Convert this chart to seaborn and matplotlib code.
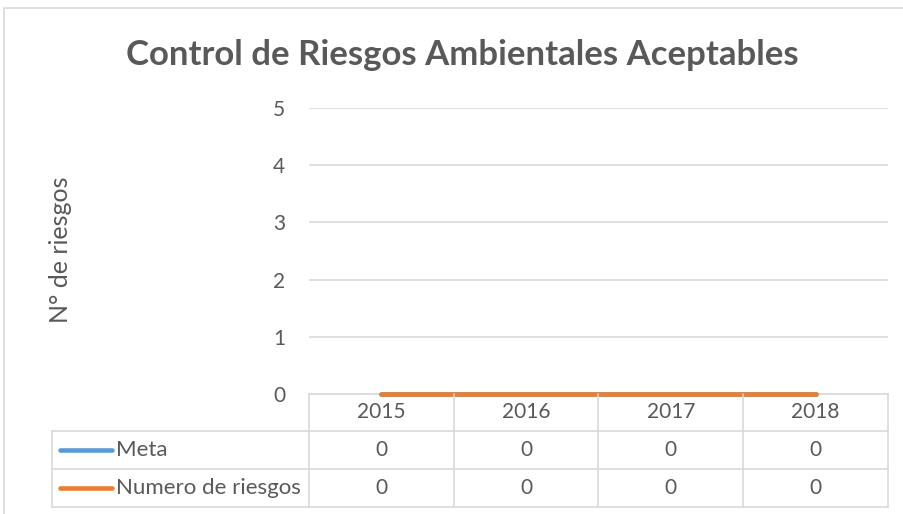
import numpy as np
import pandas as pd
import matplotlib
matplotlib.use("Agg")
import matplotlib.pyplot as plt
from matplotlib.lines import Line2D
from matplotlib.patches import Rectangle
import seaborn as sns

# data
years = ["2015", "2016", "2017", "2018"]
meta = [0, 0, 0, 0]
numero_riesgos = [0, 0, 0, 0]
series_names = ["Meta", "Numero de riesgos"]
series_colors = ["#5b9bd5", "#ed7d31"]
title = "Control de Riesgos Ambientales Aceptables"
y_label = "N° de riesgos"
y_ticks = [0, 1, 2, 3, 4, 5]

sns.set_theme(style="white")
plt.rcParams["font.family"] = ["Lato", "DejaVu Sans"]
txt = "#595959"
grid = "#d9d9d9"

df = pd.DataFrame({
    "year": years * 2,
    "serie": [series_names[0]] * len(years) + [series_names[1]] * len(years),
    "valor": meta + numero_riesgos,
})

W, H = 904, 514
fig = plt.figure(figsize=(W / 100, H / 100), dpi=100)

def fx(x):
    return x / W

def fy(y):
    return 1 - y / H

# outer chart frame
fig.patches.append(Rectangle((fx(4), fy(520)), fx(910) - fx(4), fy(8) - fy(520),
                             transform=fig.transFigure, fill=False, edgecolor=grid, lw=1.2))

ax_l, ax_r, ax_t, ax_b = 309, 888, 108, 394
ax = fig.add_axes([fx(ax_l), fy(ax_b), fx(ax_r) - fx(ax_l), fy(ax_t) - fy(ax_b)])

sns.lineplot(data=df, x="year", y="valor", hue="serie", palette=series_colors,
             linewidth=3.3, legend=False, ax=ax, sort=False)
for ln in ax.lines:
    ln.set_clip_on(False)
    ln.set_solid_capstyle("round")
    ln.set_zorder(4)

ax.set_xlim(-0.5, len(years) - 0.5)
ax.set_ylim(0, 5)
ax.set_yticks(y_ticks)
ax.yaxis.grid(True, color=grid, lw=1.2)
ax.set_axisbelow(True)
for s in ["top", "right", "left"]:
    ax.spines[s].set_visible(False)
ax.spines["bottom"].set_color(grid)
ax.spines["bottom"].set_linewidth(1.2)
ax.spines["bottom"].set_zorder(1)
ax.set_xticks([])
ax.set_xlabel("")
ax.set_ylabel("")
ax.tick_params(axis="y", length=0, pad=17, labelsize=15, labelcolor=txt)

fig.text(fx(462), fy(55), title, ha="center", va="center",
         fontsize=25, fontweight="bold", color=txt)
fig.text(fx(60), fy(250), y_label, ha="center", va="center", rotation=90,
         fontsize=18, color=txt)

# data table below the plot
col_edges = np.linspace(ax_l, ax_r, len(years) + 1)
centers = (col_edges[:-1] + col_edges[1:]) / 2
row_lines = [394, 431, 469, 507]
left_edge = 52

def hline(x0, x1, y):
    fig.add_artist(Line2D([fx(x0), fx(x1)], [fy(y), fy(y)], transform=fig.transFigure,
                          color=grid, lw=1.2))

def vline(x, y0, y1):
    fig.add_artist(Line2D([fx(x), fx(x)], [fy(y0), fy(y1)], transform=fig.transFigure,
                          color=grid, lw=1.2))

for y in row_lines[1:]:
    hline(left_edge, ax_r, y)
for x in col_edges:
    vline(x, row_lines[0], row_lines[-1])
vline(left_edge, row_lines[1], row_lines[-1])

for c, yr in zip(centers, years):
    fig.text(fx(c), fy((row_lines[0] + row_lines[1]) / 2), yr, ha="center", va="center",
             fontsize=15, color=txt)

for i, (name, color, vals) in enumerate(zip(series_names, series_colors, [meta, numero_riesgos])):
    yc = (row_lines[i + 1] + row_lines[i + 2]) / 2
    fig.add_artist(Line2D([fx(60), fx(112)], [fy(yc), fy(yc)], transform=fig.transFigure,
                          color=color, lw=3.3, solid_capstyle="round"))
    fig.text(fx(116), fy(yc), name, ha="left", va="center", fontsize=16, color=txt)
    for c, v in zip(centers, vals):
        fig.text(fx(c), fy(yc), str(v), ha="center", va="center", fontsize=15, color=txt)

fig.savefig("out.png", dpi=100)
